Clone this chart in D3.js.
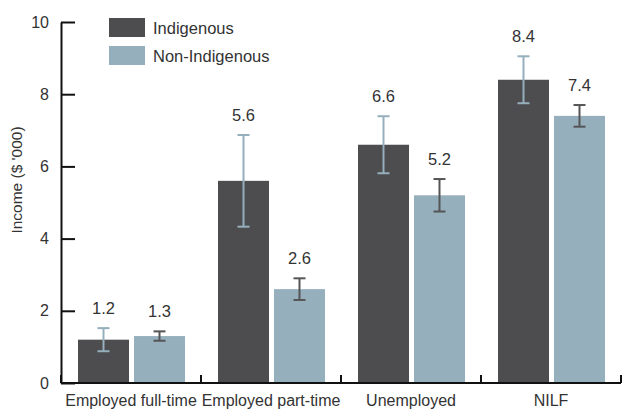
<!DOCTYPE html>
<html><head><meta charset="utf-8">
<script src="https://cdn.jsdelivr.net/npm/d3@7"></script>
<style>body{margin:0;background:#fff}svg{display:block}text{font-family:"Liberation Sans",Arial,sans-serif}</style>
</head><body>
<svg id="c" width="625" height="410"></svg>
<script>
const categories = ["Employed full-time","Employed part-time","Unemployed","NILF"];
const seriesNames = ["Indigenous","Non-Indigenous"];
const indigenous = [1.2, 5.6, 6.6, 8.4];
const nonIndigenous = [1.3, 2.6, 5.2, 7.4];
const indigenousErr = [0.32, 1.27, 0.79, 0.65];
const nonIndigenousErr = [0.13, 0.3, 0.45, 0.3];
const yTicks = [0, 2, 4, 6, 8, 10];
const yLabel = "Income ($ '000)";

const colors = {"Indigenous":"#4d4d4f","Non-Indigenous":"#95afbd"};
const errColors = {"Indigenous":"#95afbd","Non-Indigenous":"#555557"};
const FONT = "Liberation Sans, Arial, sans-serif";

const svg = d3.select("#c");
const x = d3.scaleBand().domain(categories).range([61, 621]).paddingInner(0).paddingOuter(0);
const xs = d3.scaleBand().domain(seriesNames).range([17, 124]).paddingInner(0.089).paddingOuter(0);
const y = d3.scaleLinear().domain([0, 10]).range([383, 22]);

const data = [];
categories.forEach((c, i) => {
  data.push({cat: c, s: "Indigenous", v: indigenous[i], e: indigenousErr[i]});
  data.push({cat: c, s: "Non-Indigenous", v: nonIndigenous[i], e: nonIndigenousErr[i]});
});

// bars
svg.append("g").selectAll("rect").data(data).join("rect")
  .attr("x", d => x(d.cat) + xs(d.s))
  .attr("width", xs.bandwidth())
  .attr("y", d => y(d.v))
  .attr("height", d => y(0) - y(d.v))
  .attr("fill", d => colors[d.s]);

// error bars
const eg = svg.append("g").selectAll("g").data(data).join("g")
  .attr("stroke", d => errColors[d.s]).attr("stroke-width", 2);
eg.append("line")
  .attr("x1", d => x(d.cat) + xs(d.s) + xs.bandwidth()/2)
  .attr("x2", d => x(d.cat) + xs(d.s) + xs.bandwidth()/2)
  .attr("y1", d => y(d.v + d.e)).attr("y2", d => y(d.v - d.e));
[1, -1].forEach(sg => {
  eg.append("line")
    .attr("x1", d => x(d.cat) + xs(d.s) + xs.bandwidth()/2 - 6)
    .attr("x2", d => x(d.cat) + xs(d.s) + xs.bandwidth()/2 + 6)
    .attr("y1", d => y(d.v + sg*d.e)).attr("y2", d => y(d.v + sg*d.e));
});

// value labels
svg.append("g").selectAll("text").data(data).join("text")
  .attr("x", d => x(d.cat) + xs(d.s) + xs.bandwidth()/2)
  .attr("y", d => y(d.v + d.e) - 14)
  .attr("text-anchor", "middle")
  .attr("font-size", 16.5).attr("fill", "#333")
  .text(d => d.v.toFixed(1));

// y axis
const ya = svg.append("g").attr("transform", "translate(61,0)")
  .call(d3.axisLeft(y).tickValues(yTicks).tickSizeInner(-14).tickSizeOuter(0).tickPadding(12).tickFormat(d3.format("d")));
ya.select(".domain").attr("stroke", "#111").attr("stroke-width", 2);
ya.selectAll(".tick line").attr("stroke", "#111").attr("stroke-width", 2);
ya.selectAll(".tick text").attr("font-size", 16).attr("fill", "#333").attr("font-family", FONT);

// x axis baseline + boundary ticks
const bounds = categories.map(c => x(c)).concat([x.range()[1]]);
svg.append("line").attr("x1", x.range()[0]).attr("x2", x.range()[1])
  .attr("y1", y(0)).attr("y2", y(0)).attr("stroke", "#111").attr("stroke-width", 2);
svg.append("g").selectAll("line").data(bounds).join("line")
  .attr("x1", d => d).attr("x2", d => d)
  .attr("y1", y(0)).attr("y2", y(0) - 8)
  .attr("stroke", "#111").attr("stroke-width", 2);

const xa = svg.append("g").attr("transform", `translate(0,${y(0)})`)
  .call(d3.axisBottom(x).tickSize(0).tickPadding(12));
xa.select(".domain").remove();
xa.selectAll(".tick text").attr("font-size", 16).attr("fill", "#333").attr("font-family", FONT);

// y label
svg.append("text").attr("transform", "translate(22,180) rotate(-90)")
  .attr("text-anchor", "middle").attr("font-size", 15.5).attr("fill", "#333")
  .text(yLabel);

// legend
const lg = svg.append("g").selectAll("g").data(seriesNames).join("g")
  .attr("transform", (d, i) => `translate(109,${18 + i*28})`);
lg.append("rect").attr("width", 36).attr("height", 19).attr("fill", d => colors[d]);
lg.append("text").attr("x", 44).attr("y", 15.5).attr("font-size", 16.5).attr("fill", "#333").text(d => d);
</script>
</body></html>
